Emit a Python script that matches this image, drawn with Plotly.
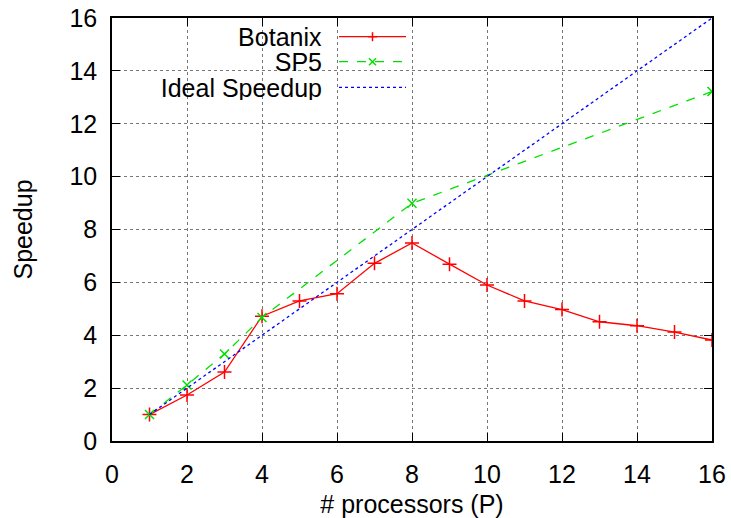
import plotly.graph_objects as go

# ---- data ----
procs = list(range(1, 17))
botanix = [1.0, 1.74, 2.61, 4.72, 5.30, 5.57, 6.72, 7.49, 6.69, 5.90, 5.30, 4.97, 4.51, 4.36, 4.12, 3.82]
sp5_procs = [1, 2, 3, 4, 8, 16]
sp5 = [1.0, 2.12, 3.29, 4.67, 8.99, 13.22]
ideal_procs = [1, 16]
ideal = [1, 16]

x_ticks = [0, 2, 4, 6, 8, 10, 12, 14, 16]
y_ticks = [0, 2, 4, 6, 8, 10, 12, 14, 16]

series_names = ["Botanix", "SP5", "Ideal Speedup"]
RED, GREEN, BLUE = "#ff0000", "#00e000", "#0000ff"
FONT = "Liberation Sans"
FS = 25

fig = go.Figure()
fig.add_trace(go.Scatter(x=procs, y=botanix, mode="lines+markers", name=series_names[0],
                         line=dict(color=RED, width=1.3),
                         marker=dict(symbol="cross-thin", size=10, line=dict(color=RED, width=1.5))))
fig.add_trace(go.Scatter(x=sp5_procs, y=sp5, mode="lines+markers", name=series_names[1],
                         line=dict(color=GREEN, width=1.3, dash="dash"),
                         marker=dict(symbol="x-thin", size=9, line=dict(color=GREEN, width=1.5))))
fig.add_trace(go.Scatter(x=ideal_procs, y=ideal, mode="lines", name=series_names[2],
                         line=dict(color=BLUE, width=1.3, dash="dot")))

L, R, T, B = 112, 19, 18, 77
W, H = 731, 518
pw, ph = W - L - R, H - T - B

def px(xp):
    return (xp - L) / pw

def py(yp):
    return (H - B - yp) / ph

shapes = []
# opaque key area (hides grid behind the key)
shapes.append(dict(type="rect", xref="paper", yref="paper", x0=px(124), x1=px(420), y0=py(100), y1=1,
                   fillcolor="white", line=dict(width=0), layer="between"))
rows = [36.7, 61.7, 87.3]
colors = [RED, GREEN, BLUE]
dashes = ["solid", "dash", "dot"]
annotations = []
for name, yr, c, d in zip(series_names, rows, colors, dashes):
    annotations.append(dict(text=name, xref="paper", yref="paper", x=px(323), y=py(yr),
                            xanchor="right", yanchor="middle", align="right", showarrow=False,
                            width=190, height=25, borderpad=0,
                            font=dict(family=FONT, size=FS, color="black")))
    shapes.append(dict(type="line", xref="paper", yref="paper", x0=px(339), x1=px(406),
                       y0=py(yr), y1=py(yr), line=dict(color=c, width=1.3, dash=d)))
# key marker glyphs
mx = px(372.5)
s = 4.5
ys = py(rows[0])
shapes.append(dict(type="line", xref="paper", yref="paper", x0=px(372.5 - s), x1=px(372.5 + s),
                   y0=ys, y1=ys, line=dict(color=RED, width=1.5)))
shapes.append(dict(type="line", xref="paper", yref="paper", x0=mx, x1=mx,
                   y0=py(rows[0] - s), y1=py(rows[0] + s), line=dict(color=RED, width=1.5)))
s2 = 3.5
shapes.append(dict(type="line", xref="paper", yref="paper", x0=px(372.5 - s2), x1=px(372.5 + s2),
                   y0=py(rows[1] - s2), y1=py(rows[1] + s2), line=dict(color=GREEN, width=1.5)))
shapes.append(dict(type="line", xref="paper", yref="paper", x0=px(372.5 - s2), x1=px(372.5 + s2),
                   y0=py(rows[1] + s2), y1=py(rows[1] - s2), line=dict(color=GREEN, width=1.5)))

axis_common = dict(showline=True, linecolor="black", linewidth=1.5, mirror="allticks",
                   ticks="inside", ticklen=8, tickwidth=1, tickcolor="black",
                   showgrid=True, gridcolor="#777777", griddash="dot", gridwidth=1,
                   zeroline=False, automargin=False,
                   tickfont=dict(family=FONT, size=FS, color="black"))

fig.update_layout(
    width=W, height=H, margin=dict(l=L, r=R, t=T, b=B),
    paper_bgcolor="white", plot_bgcolor="white", showlegend=False,
    font=dict(family=FONT, size=FS, color="black"),
    shapes=shapes, annotations=annotations,
    xaxis=dict(range=[0, 16], tickvals=x_ticks, ticktext=[str(v) for v in x_ticks],
               title=dict(text="# processors (P)", font=dict(family=FONT, size=FS, color="black"), standoff=12),
               ticklabelstandoff=10, **axis_common),
    yaxis=dict(range=[0, 16], tickvals=y_ticks, ticktext=[str(v) for v in y_ticks],
               title=dict(text="Speedup", font=dict(family=FONT, size=FS, color="black"), standoff=30),
               ticklabelstandoff=8, **axis_common),
)

fig.write_html("out.html", config={"displayModeBar": False},
               post_script="document.body.style.margin='0';document.body.style.padding='0';")
